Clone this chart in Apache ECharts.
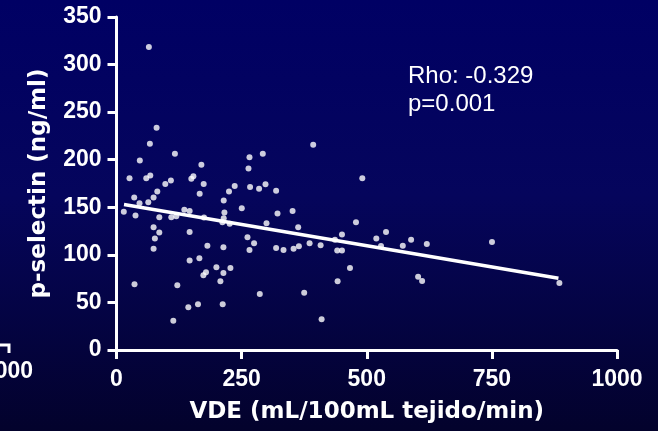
<!DOCTYPE html>
<html>
<head>
<meta charset="utf-8">
<script src="https://cdn.jsdelivr.net/npm/echarts@6/dist/echarts.min.js"></script>
<style>
html,body{margin:0;padding:0;background:#000050;}
#c{width:658px;height:431px;}
</style>
</head>
<body>
<div id="c"></div>
<script>
// VDE (x) values
var vdeValues = [64.7,80.1,66.7,46.6,116.7,169.6,265.7,292.3,263.7,393,
26,59.5,67.5,149.5,153.6,108.7,97.5,174.2,81.5,74.1,
35.4,46,63.5,14.6,38,85.5,109.5,119.5,135.5,146.1,
166.2,214.2,215.6,214.2,211.6,224.8,236.2,266.9,284.9,297.7,
318.9,250.3,321.7,351.8,299.7,226.2,174.8,363,491.1,478.5,
450.5,436.4,519.1,74.1,85.5,76.7,74.1,146.1,181.6,213.6,
261.7,274.9,265.7,318.9,333.7,353.8,364.4,385.8,407.8,441,
450.5,146.1,165.6,199.6,227.6,213.6,178.8,173.6,207.6,466.5,
441.8,36,121.5,286.3,375,143.5,162.8,212.2,113.5,409.8,
538.5,528.5,572,588.6,620,750.2,602.6,610.6,884.9];
// p-selectin (y) values
var pselValues = [318.5,233.6,216.7,199.2,206.2,194.6,202.7,206.2,190.7,215.7,
180.6,180.6,183.4,179.9,182.7,178.1,174.6,174.6,166.5,160.2,
160.2,154.3,155.4,145.2,141.3,139.6,139.6,140.7,147.3,146.2,
164.1,157.1,144.5,138.6,134.4,166.5,172.5,171.2,169.4,174.3,
167.3,149.1,143.4,146.2,133.3,132.6,139.2,129.1,180.6,134.4,
121.3,116,117.1,129.1,123.4,117.1,106.3,124.1,109.7,108,
118.6,112.3,105.2,107.3,105.2,106.3,109.1,112.3,110.2,104.5,
104.5,94,96.5,87,86.3,81,81.7,78.6,72.3,86.3,
72.3,69.1,68.1,58.9,60.3,44.9,48.1,48.1,30.8,32.3,
124.1,109.4,109.7,116,111.5,113.6,77.1,72.6,70.5];
// regression line end points
var fitX = [15, 883];
var fitY = [153, 75.5];
var xTicks = [0, 250, 500, 750, 1000];
var yTicks = [0, 50, 100, 150, 200, 250, 300, 350];
var statsText = ['Rho: -0.329', 'p=0.001'];

var pts = vdeValues.map(function(v,i){return [v, pselValues[i]];});
var fit = fitX.map(function(v,i){return [v, fitY[i]];});

var FF = '"Liberation Sans", Arial, sans-serif';
var FN = '"DejaVu Sans", "Liberation Sans", sans-serif';
var chart = echarts.init(document.getElementById('c'));
var axisFont = {color:'#ffffff', fontFamily:FF, fontWeight:'bold', fontSize:23};
chart.setOption({
  backgroundColor: {
    type:'linear', x:0, y:0, x2:0, y2:1,
    colorStops:[{offset:0,color:'#000064'},{offset:0.45,color:'#05055c'},{offset:1,color:'#03022c'}]
  },
  animation:false,
  grid:{left:116.5, right:41, top:17, bottom:81, containLabel:false, outerBoundsMode:'none'},
  xAxis:{
    type:'value', min:xTicks[0], max:xTicks[xTicks.length-1], interval:250,
    name:'VDE (mL/100mL tejido/min)', nameLocation:'middle', nameGap:51,
    nameTextStyle:{color:'#ffffff', fontFamily:FN, fontWeight:'bold', fontSize:23},
    axisLine:{lineStyle:{color:'#ffffff', width:3}},
    axisTick:{show:true, length:9, lineStyle:{color:'#ffffff', width:3}},
    axisLabel:Object.assign({margin:18, formatter:function(v){return String(v);}}, axisFont),
    splitLine:{show:false}
  },
  yAxis:{
    type:'value', min:yTicks[0], max:yTicks[yTicks.length-1], interval:50,
    name:'p-selectin (ng/ml)', nameLocation:'middle', nameGap:66,
    nameTextStyle:{color:'#ffffff', fontFamily:FN, fontWeight:'bold', fontSize:23},
    axisLine:{show:true, lineStyle:{color:'#ffffff', width:3}},
    axisTick:{show:true, length:9, lineStyle:{color:'#ffffff', width:3}},
    axisLabel:Object.assign({margin:15}, axisFont),
    splitLine:{show:false}
  },
  graphic:[
    {type:'text', left:408, top:64, style:{text:statsText[0], fill:'#ffffff', font:'24px ' + FF}},
    {type:'text', left:408, top:92, style:{text:statsText[1], fill:'#ffffff', font:'24px ' + FF}},
    {type:'text', right:625, top:360, style:{text:'1000', fill:'#ffffff', font:'bold 23px ' + FF, textAlign:'right'}},
    {type:'polyline', shape:{points:[[0,345],[9,345],[9,353]]}, style:{stroke:'#ffffff', lineWidth:3, fill:null}}
  ],
  series:[
    {type:'scatter', data:pts, symbol:'circle', symbolSize:6, itemStyle:{color:'#ffffff'}, z:3},
    {type:'line', data:fit, symbol:'none', lineStyle:{color:'#ffffff', width:3.5}, z:2}
  ]
});
</script>
</body>
</html>
